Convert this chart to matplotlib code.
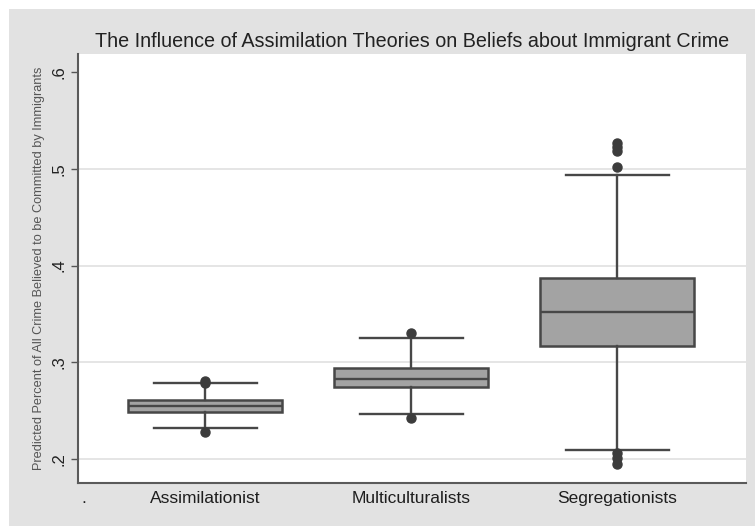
import matplotlib
matplotlib.use("Agg")
import matplotlib.pyplot as plt
from matplotlib.patches import Rectangle

# Box summaries (predicted share of crime attributed to immigrants)
groups = ["Assimilationist", "Multiculturalists", "Segregationists"]
q1 = [0.2488, 0.2748, 0.3163]
median = [0.2550, 0.2830, 0.3516]
q3 = [0.2613, 0.2945, 0.3869]
whisker_low = [0.2320, 0.2467, 0.2093]
whisker_high = [0.2780, 0.3246, 0.4939]
outliers = [
    [0.2785, 0.2805, 0.2280],
    [0.3298, 0.2426],
    [0.5022, 0.5190, 0.5230, 0.5270, 0.2060, 0.2010, 0.1950],
]
yticks = [0.2, 0.3, 0.4, 0.5, 0.6]
ytick_labels = [".2", ".3", ".4", ".5", ".6"]

plt.rcParams["font.family"] = ["Liberation Sans", "DejaVu Sans"]

fig = plt.figure(figsize=(7.55, 5.26), dpi=100)
fig.patch.set_facecolor("white")
# gray graph region, with a thin white margin on top and left
fig.patches.append(Rectangle((9 / 755, 0), 1, 1 - 9 / 526, transform=fig.transFigure,
                             facecolor="#e2e2e2", edgecolor="none", zorder=-10))

ax = fig.add_axes([78 / 755, 1 - 483 / 526, (746 - 78) / 755, (483 - 54) / 526])
ax.set_facecolor("white")

stats = []
for i, name in enumerate(groups):
    stats.append({
        "label": name, "med": median[i], "q1": q1[i], "q3": q3[i],
        "whislo": whisker_low[i], "whishi": whisker_high[i], "fliers": outliers[i],
    })

edge = "#474747"
positions = [1, 2, 3]
ax.bxp(stats, positions=positions, widths=0.75, patch_artist=True, showfliers=True,
       boxprops=dict(facecolor="#a3a3a3", edgecolor=edge, linewidth=1.8),
       medianprops=dict(color=edge, linewidth=1.7),
       whiskerprops=dict(color=edge, linewidth=1.7),
       capprops=dict(color=edge, linewidth=1.7),
       capwidths=0.5,
       flierprops=dict(marker="o", markerfacecolor="#3c3c3c", markeredgecolor="#3c3c3c",
                       markersize=6.5, linestyle="none"))

ax.set_xlim(0.383, 3.625)
ax.set_ylim(0.175, 0.619)
ax.set_yticks(yticks)
ax.set_yticklabels(ytick_labels, rotation=90, va="center", fontsize=12, color="#222222")
ax.yaxis.grid(True, color="#dedede", linewidth=1.1)
for gl, t in zip(ax.get_ygridlines(), yticks):
    if t >= 0.6:
        gl.set_visible(False)
ax.set_axisbelow(True)

ax.set_xticks([0.41] + positions)
ax.set_xticklabels(["."] + groups, fontsize=12.5, color="#1e1e1e")
ax.tick_params(axis="x", length=0, pad=6)
ax.tick_params(axis="y", length=5, width=1, color="#555555", direction="out", pad=3)

for side in ["top", "right"]:
    ax.spines[side].set_visible(False)
for side in ["left", "bottom"]:
    ax.spines[side].set_color("#5a5a5a")
    ax.spines[side].set_linewidth(1.5)

ax.set_ylabel("Predicted Percent of All Crime Believed to be Committed by Immigrants",
              fontsize=9.2, color="#555555", labelpad=5)
ax.set_title("The Influence of Assimilation Theories on Beliefs about Immigrant Crime",
             fontsize=14.2, color="#222222", pad=5)

fig.savefig("out.png", dpi=100, facecolor=fig.get_facecolor())
